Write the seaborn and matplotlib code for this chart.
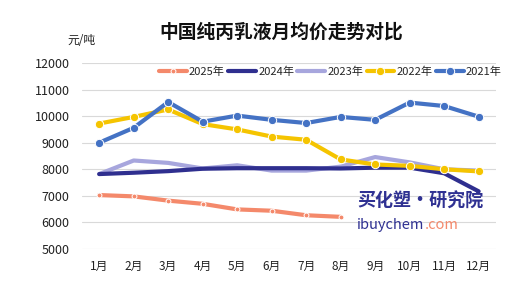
import numpy as np
import pandas as pd
import matplotlib
matplotlib.use("Agg")
import matplotlib.pyplot as plt
import seaborn as sns

months = ["1月", "2月", "3月", "4月", "5月", "6月", "7月", "8月", "9月", "10月", "11月", "12月"]
v2025 = [7030, 6980, 6820, 6700, 6490, 6440, 6270, 6210]
v2024 = [7820, 7870, 7930, 8020, 8040, 8040, 8040, 8030, 8060, 8060, 7850, 7170]
v2023 = [7820, 8330, 8240, 8030, 8150, 7950, 7950, 8100, 8460, 8260, 8000, 7950]
v2022 = [9720, 9970, 10250, 9700, 9500, 9230, 9110, 8370, 8180, 8130, 8000, 7920]
v2021 = [9000, 9560, 10530, 9790, 10020, 9860, 9740, 9970, 9860, 10510, 10380, 9980]
series_names = ["2025年", "2024年", "2023年", "2022年", "2021年"]

sns.set_theme(style="white")
plt.rcParams['font.family'] = ['Noto Sans CJK SC', 'DejaVu Sans']

fig = plt.figure(figsize=(5.22, 3.02), dpi=100)
ax = fig.add_axes([0.157, 0.1755, 0.793, 0.616])

styles = {
    "2023年": dict(color="#a7a6dd", lw=3.0, marker=None, z=2),
    "2024年": dict(color="#2f2f8f", lw=3.0, marker=None, z=3),
    "2022年": dict(color="#f5c400", lw=3.0, marker="o", ms=6, z=4),
    "2021年": dict(color="#4472c4", lw=3.0, marker="o", ms=6, z=5),
    "2025年": dict(color="#f4896b", lw=3.0, marker="o", ms=3.5, z=6),
}
data = {"2025年": v2025, "2024年": v2024, "2023年": v2023, "2022年": v2022, "2021年": v2021}

for name in ["2023年", "2024年", "2022年", "2021年", "2025年"]:
    vals = data[name]
    st = styles[name]
    df = pd.DataFrame({"x": np.arange(len(vals)), "y": vals})
    kw = {}
    if st["marker"]:
        kw = dict(marker="o", markersize=st["ms"], markeredgecolor="white", markeredgewidth=0.7)
    sns.lineplot(data=df, x="x", y="y", ax=ax, color=st["color"], linewidth=st["lw"],
                 zorder=st["z"], label=name, **kw)

h, l = ax.get_legend_handles_labels()
hd = dict(zip(l, h))
ax.legend([hd[n] for n in series_names], series_names, ncol=5, frameon=False,
          loc="upper left", bbox_to_anchor=(0.175, 1.005), fontsize=8,
          handlelength=2.5, handletextpad=0.2, columnspacing=0.3, borderaxespad=0)

ax.set_xlim(-0.5, 11.5)
ax.set_ylim(5000, 12000)
ax.set_yticks(np.arange(5000, 12001, 1000))
ax.set_xticks(np.arange(12))
ax.set_xticklabels(months)
ax.tick_params(axis="x", labelsize=8.5, length=0, colors="#222222", pad=8)
ax.tick_params(axis="y", labelsize=9, length=0, colors="#222222", pad=9)
ax.grid(axis="y", color="#d9d9d9", linewidth=0.8)
ax.set_axisbelow(True)
for s in ax.spines.values():
    s.set_visible(False)
ax.set_xlabel("")
ax.set_ylabel("")

fig.text(0.539, 0.895, "中国纯丙乳液月均价走势对比", ha="center", va="center",
         fontsize=13.5, fontweight="bold", color="#111111")
fig.text(0.13, 0.865, "元/吨", ha="left", va="center", fontsize=8.5, color="#222222")

# watermark
ax.text(0.665, 0.255, "买化塑·研究院", transform=ax.transAxes, fontsize=13,
        fontweight="bold", style="italic", color="#2f3192", ha="left", va="center", zorder=10)
t = ax.text(0.665, 0.13, "ibuychem", transform=ax.transAxes, fontsize=10.5,
            color="#2f3192", ha="left", va="center", zorder=10)
ax.annotate(".com", xy=(1, 0), xycoords=t, va="bottom", ha="left", fontsize=10.5,
            color="#f4896b", zorder=10)

fig.savefig("out.png", dpi=100)
